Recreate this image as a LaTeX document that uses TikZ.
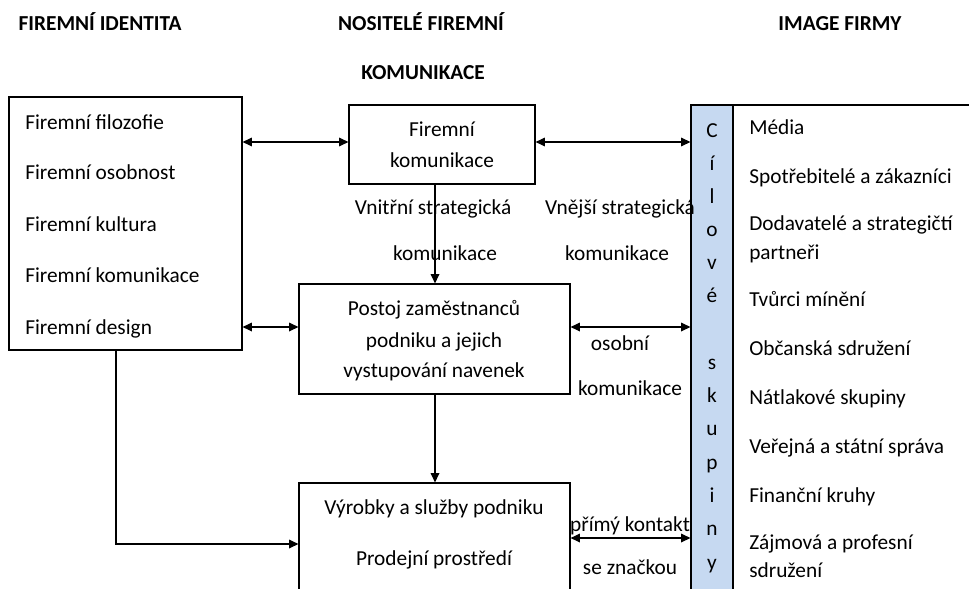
\documentclass[tikz,border=0pt]{standalone}
\usepackage{fontspec}
\setmainfont{Carlito}
\usetikzlibrary{arrows.meta,fit}
\definecolor{colblue}{RGB}{198,217,241}
\tikzset{
  box/.style={draw=black,line width=0.9pt,inner sep=0pt,fill=white},
  txt/.style={inner sep=0pt,yshift=-3pt,text height=1.5ex,text depth=0.45ex,font=\fontsize{16}{19}\selectfont,text=black},
  hdr/.style={txt,font=\fontsize{16}{19}\selectfont\bfseries},
  ltxt/.style={txt,anchor=west},
  arr/.style={line width=0.9pt,-{Triangle[length=7pt,width=6.5pt]}},
  darr/.style={line width=0.9pt,{Triangle[length=7pt,width=6.5pt]}-{Triangle[length=7pt,width=6.5pt]}}
}
\begin{document}
\begin{tikzpicture}[x=0.75pt,y=-0.75pt]
\useasboundingbox (0,0) rectangle (969,588);
\clip (0,0) rectangle (969,588);
% headers
\node[hdr] (h1) at (100,23) {FIREMNÍ IDENTITA};
\node[hdr] (h2) at (421,23) {NOSITELÉ FIREMNÍ};
\node[hdr] (h3) at (423,72) {KOMUNIKACE};
\node[hdr] (h4) at (840,23) {IMAGE FIRMY};
% helper coordinates
\coordinate (y142) at (0,142);
\coordinate (y327) at (0,327);
\coordinate (y538) at (0,538);
\coordinate (y544) at (0,544);
\coordinate (x116) at (116,0);
\coordinate (x435) at (435,0);
% boxes
\node[box,fit={(9,97) (242,350)}] (lb) {};
\node[box,fit={(349,105) (535,184)}] (fk) {};
\node[box,fit={(299,284) (570,394)}] (po) {};
\node[box,fit={(299,483) (570,640)}] (vy) {};
\node[box,fill=colblue,fit={(691,105) (733,640)}] (cs) {};
\node[box,fit={(733,105) (1000,640)}] (rb) {};
% left box items
\node[ltxt] (l1) at (25,122) {Firemní filozofie};
\node[ltxt] (l2) at (25,172) {Firemní osobnost};
\node[ltxt] (l3) at (25,224) {Firemní kultura};
\node[ltxt] (l4) at (25,275) {Firemní komunikace};
\node[ltxt] (l5) at (25,327) {Firemní design};
% middle texts
\node[txt] (fk1) at (442,129) {Firemní};
\node[txt] (fk2) at (442,160) {komunikace};
\node[txt] (po1) at (434,308) {Postoj zaměstnanců};
\node[txt] (po2) at (434,340) {podniku a jejich};
\node[txt] (po3) at (434,370) {vystupování navenek};
\node[txt] (vy1) at (434,507) {Výrobky a služby podniku};
\node[txt] (vy2) at (434,558) {Prodejní prostředí};
% labels
\node[txt] (la1) at (433,207) {Vnitřní strategická};
\node[txt] (la2) at (445,253) {komunikace};
\node[txt] (la3) at (620,207) {Vnější strategická};
\node[txt] (la4) at (617,253) {komunikace};
\node[txt] (la5) at (620,343) {osobní};
\node[txt] (la6) at (630,388) {komunikace};
\node[txt] (la7) at (630,524) {přímý kontakt};
\node[txt] (la8) at (630,567) {se značkou};
% column letters
\foreach \ch/\yy [count=\i] in {C/130,í/163,l/196,o/229,v/262,é/295,s/362,k/395,u/428,p/462,i/495,n/528,y/562}{
  \node[txt] (cl\i) at (712,\yy) {\ch};
}
% right items
\node[ltxt] (r1) at (749,127) {Média};
\node[ltxt] (r2) at (749,176) {Spotřebitelé a zákazníci};
\node[ltxt] (r3) at (749,223) {Dodavatelé a strategičtí};
\node[ltxt] (r4) at (749,252) {partneři};
\node[ltxt] (r5) at (749,299) {Tvůrci mínění};
\node[ltxt] (r6) at (749,348) {Občanská sdružení};
\node[ltxt] (r7) at (749,397) {Nátlakové skupiny};
\node[ltxt] (r8) at (749,446) {Veřejná a státní správa};
\node[ltxt] (r9) at (749,495) {Finanční kruhy};
\node[ltxt] (r10) at (749,542) {Zájmová a profesní};
\node[ltxt] (r11) at (749,570) {sdružení};
% connectors
\draw[darr] (lb.east |- y142) -- (fk.west |- y142);
\draw[darr] (fk.east |- y142) -- (cs.west |- y142);
\draw[arr] (fk.south -| x435) -- (po.north -| x435);
\draw[darr] (lb.east |- y327) -- (po.west |- y327);
\draw[darr] (po.east |- y327) -- (cs.west |- y327);
\draw[arr] (po.south -| x435) -- (vy.north -| x435);
\draw[arr] (lb.south -| x116) |- (vy.west |- y544);
\draw[darr] (vy.east |- y538) -- (cs.west |- y538);
\end{tikzpicture}
\end{document}
